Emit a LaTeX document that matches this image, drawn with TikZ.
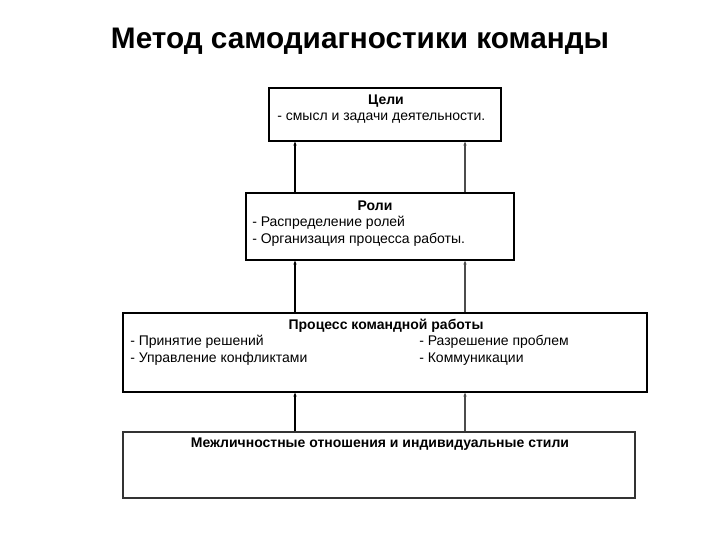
\documentclass[tikz,border=0pt]{standalone}
\usepackage{fontspec}
\setmainfont{Liberation Sans}
\usetikzlibrary{arrows.meta, fit}

\tikzset{
  box/.style={draw=black, line width=0.9pt, inner sep=0pt, fill=white},
  head/.style={font=\fontsize{10.5}{12}\selectfont\bfseries, inner sep=0pt},
  item/.style={font=\fontsize{10.5}{12}\selectfont, anchor=west, inner sep=0pt},
  up/.style={line width=0.9pt, -{Stealth[length=3pt, width=2.4pt]}},
}

\begin{document}
\begin{tikzpicture}[x=0.75pt,y=0.75pt,yscale=-1,xscale=1]
\path (0,0) rectangle (720,540); %set diagram size

% title
\node[font=\fontsize{22.3}{25}\selectfont\bfseries, anchor=base, inner sep=0pt] (title) at (360,48) {Метод самодиагностики команды};

% boxes
\node[box, fit={(269,88) (501,141)}] (goals) {};
\node[box, fit={(246,193) (514,260)}] (roles) {};
\node[box, fit={(123,313) (647,392)}] (process) {};
\node[box, draw=black!80, fit={(123,432) (635,498)}] (relations) {};

% columns of the arrows
\coordinate (colL) at (295,0);
\coordinate (colR) at (465,0);

% Text Node
\node[head] (goalsT) at (386,101) {Цели};
\node[item] (goalsA) at (277,118) {- смысл и задачи деятельности.};
% Text Node
\node[head] (rolesT) at (375,206) {Роли};
\node[item] (rolesA) at (252,223) {- Распределение ролей};
\node[item] (rolesB) at (252,240) {- Организация процесса работы.};
% Text Node
\node[head] (processT) at (386,326) {Процесс командной работы};
\node[item] (processA) at (130,342) {- Принятие решений};
\node[item] (processB) at (130,359) {- Управление конфликтами};
\node[item] (processC) at (419,342) {- Разрешение проблем};
\node[item] (processD) at (419,359) {- Коммуникации};
% Text Node
\node[head] (relationsT) at (380,444) {Межличностные отношения и индивидуальные стили};

% arrows
\draw[up] (roles.north -| colL) -- (goals.south -| colL);
\draw[up, black!70] (roles.north -| colR) -- (goals.south -| colR);
\draw[up] (process.north -| colL) -- (roles.south -| colL);
\draw[up, black!70] (process.north -| colR) -- (roles.south -| colR);
\draw[up] (relations.north -| colL) -- (process.south -| colL);
\draw[up, black!70] (relations.north -| colR) -- (process.south -| colR);

\end{tikzpicture}
\end{document}
